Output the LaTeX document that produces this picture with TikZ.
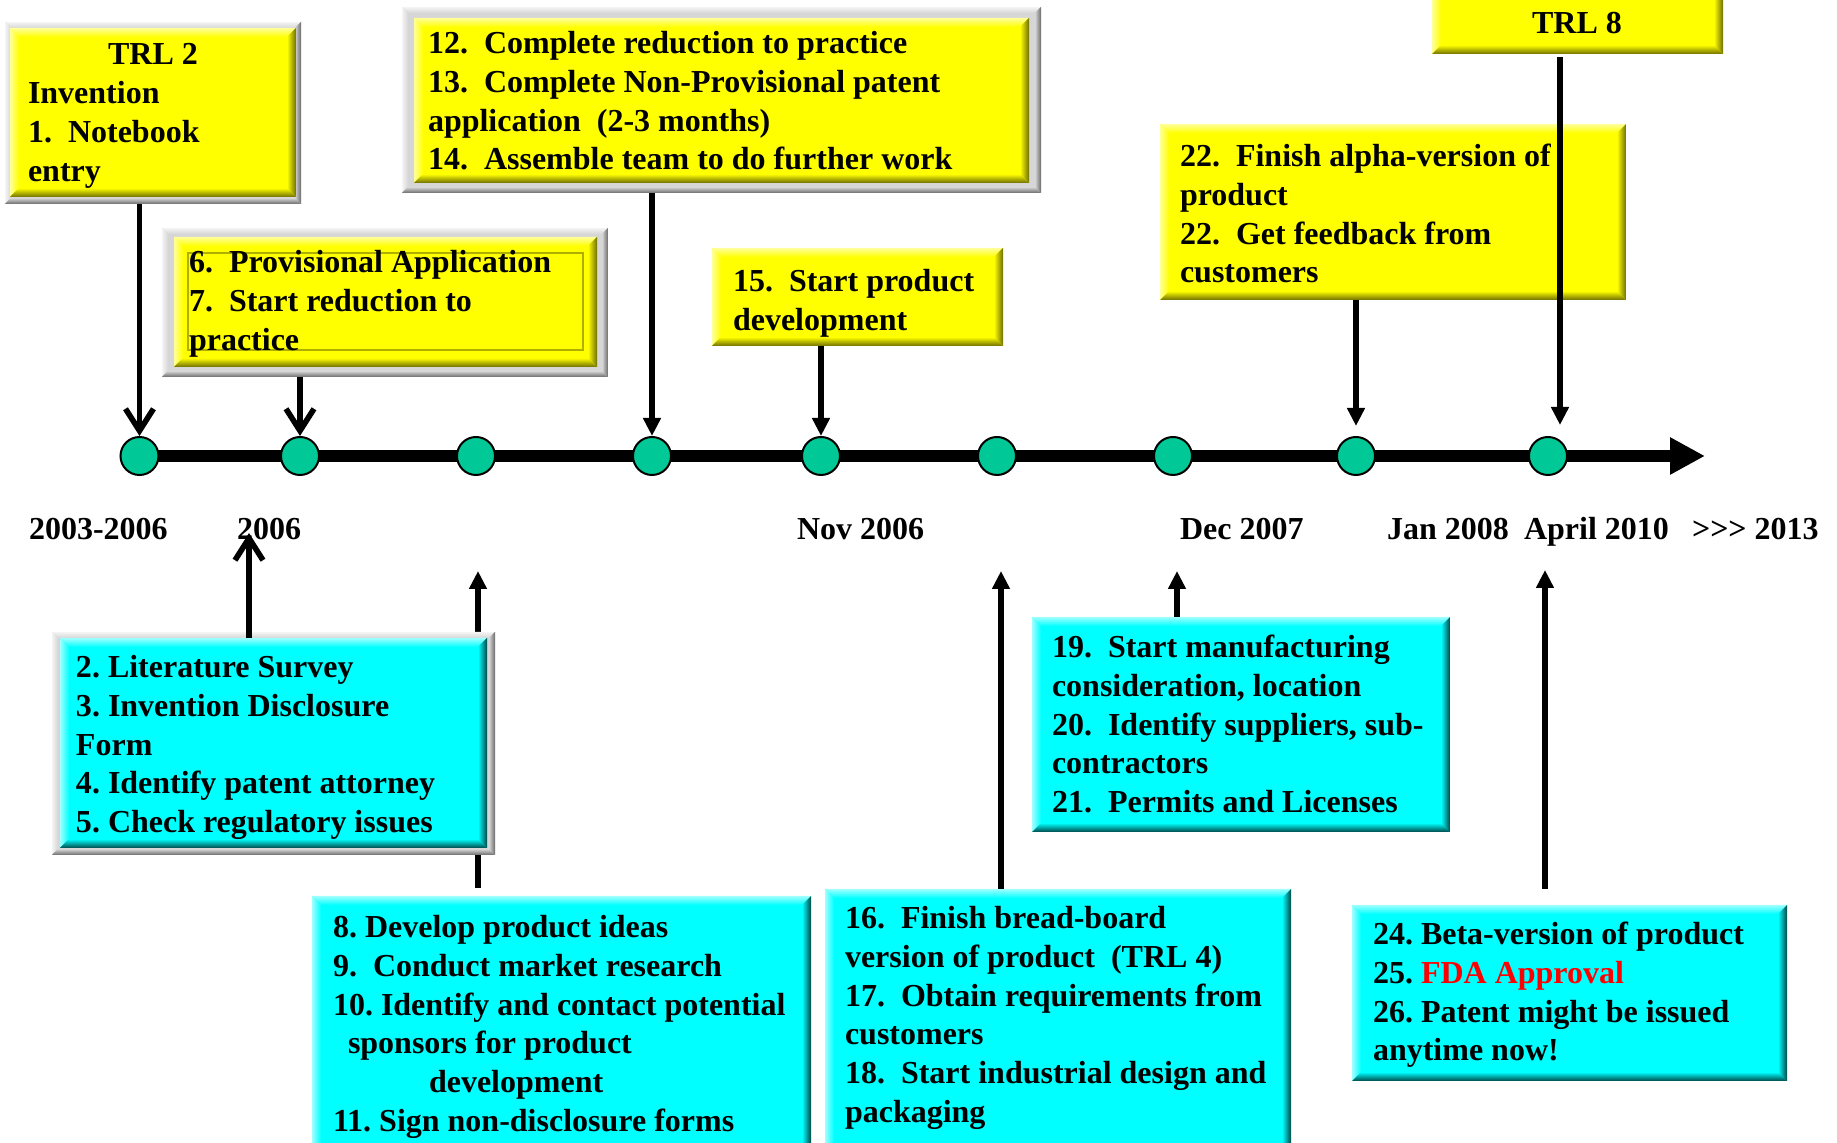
\documentclass[tikz,border=0pt]{standalone}
\usepackage{fontspec}
\setmainfont{Liberation Serif}
\usetikzlibrary{arrows.meta,calc,fit,backgrounds}
\frenchspacing

\definecolor{ybase}{HTML}{FFFF00}
\definecolor{ydark}{HTML}{6E6E00}
\definecolor{ylight}{HTML}{FFFF9A}
\definecolor{cbase}{HTML}{00FFFF}
\definecolor{cdark}{HTML}{004848}
\definecolor{clight}{HTML}{A0FFFF}
\definecolor{gbase}{HTML}{D6D6D6}
\definecolor{gdark}{HTML}{6A6A6A}
\definecolor{glight}{HTML}{F4F4F4}
\definecolor{dotgreen}{HTML}{00C896}

% multi-line left-aligned text, baseline on the first line
\newcommand\ml[1]{\begin{tabular}[t]{@{}l@{}}#1\end{tabular}}

\tikzset{
  bevel/.style n args={4}{fill=#1, draw=none, inner sep=0pt, outer sep=0pt,
    path picture={
      \path (path picture bounding box.north west) coordinate (pnw)
            (path picture bounding box.north east) coordinate (pne)
            (path picture bounding box.south west) coordinate (psw)
            (path picture bounding box.south east) coordinate (pse);
      \shade[top color=#2, bottom color=#1] (pnw) -- (pne) -- ($(pne)+(-#4,-#4)$) -- ($(pnw)+(#4,-#4)$) -- cycle;
      \shade[left color=#2, right color=#1] (pnw) -- ($(pnw)+(#4,-#4)$) -- ($(psw)+(#4,#4)$) -- (psw) -- cycle;
      \shade[left color=#1, right color=#3] (pne) -- (pse) -- ($(pse)+(-#4,#4)$) -- ($(pne)+(-#4,-#4)$) -- cycle;
      \shade[top color=#1, bottom color=#3] (psw) -- (pse) -- ($(pse)+(-#4,#4)$) -- ($(psw)+(#4,#4)$) -- cycle;
    }},
  ybox/.style={bevel={ybase}{ylight}{ydark}{4.5bp}},
  cbox/.style={bevel={cbase}{clight}{cdark}{4.5bp}},
  gframe/.style={bevel={gbase}{glight}{gdark}{3bp}},
  inline/.style={draw=ydark!55!ybase, line width=0.6bp, inner sep=0pt, outer sep=0pt},
  txt/.style={inner sep=0pt, outer sep=0pt, anchor=base west,
    font=\bfseries\fontsize{16bp}{19.3bp}\selectfont},
  dot/.style={circle, draw=black, line width=1bp, fill=dotgreen,
    minimum size=19bp, inner sep=0pt},
  axis/.style={line width=5.8bp, -{Triangle[length=17.5bp,width=17.5bp]}},
  conn/.style={line width=2.8bp},
  chev/.style={-{Straight Barb[length=11bp,width=14bp]}},
  tri/.style={-{Triangle[length=9bp,width=8.5bp]}}
}

\begin{document}
\begin{tikzpicture}[x=0.5bp, y=-0.5bp]
\useasboundingbox (0,0) rectangle (1837,1143);
\clip (0,0) rectangle (1837,1143);

% ---- upper (yellow) boxes ----
\node[gframe, fit={(5,22)(301,204)}] (f1) {};
\node[ybox, fit={(10,28)(296,197)}] (b1) {};
\node[txt, anchor=base] (t1a) at (153,65) {TRL 2};
\node[txt] (t1b) at (28,104) {\ml{Invention\\1.\ \ Notebook\\entry}};

\node[gframe, fit={(162,228)(608,377)}] (f2) {};
\node[ybox, fit={(174,237)(597,367)}] (b2) {};
\node[inline, fit={(188,253)(583,350)}] (b2in) {};
\node[txt] (t2) at (189,273) {\ml{6.\ \ Provisional Application\\7.\ \ Start reduction to\\practice}};

\node[gframe, fit={(402,7)(1041,193)}] (f3) {};
\node[ybox, fit={(414,18)(1029,183)}] (b3) {};
\node[txt] (t3) at (428,54) {\ml{12.\ \ Complete reduction to practice\\13.\ \ Complete Non-Provisional patent\\application\ \ (2-3 months)\\14.\ \ Assemble team to do further work}};

\node[ybox, fit={(712,248)(1003,346)}] (b4) {};
\node[txt] (t4) at (733,292) {\ml{15.\ \ Start product\\development}};

\node[ybox, fit={(1160,124)(1626,300)}] (b5) {};
\node[txt] (t5) at (1180,167) {\ml{22.\ \ Finish alpha-version of\\product\\22.\ \ Get feedback from\\customers}};

\node[ybox, fit={(1432,-20)(1723,54)}] (b6) {};
\node[txt, anchor=base] (t6) at (1577,34) {TRL 8};

% ---- lower (cyan) boxes ----
\node[gframe, fit={(52,632)(495,855)}] (f7) {};
\node[cbox, fit={(60,638)(487,848)}] (b7) {};
\node[txt] (t7) at (76,678) {\ml{2. Literature Survey\\3. Invention Disclosure\\Form\\4. Identify patent attorney\\5. Check regulatory issues}};

\node[cbox, fit={(312,896)(811,1170)}] (b8) {};
\node[txt] (t8) at (333,938) {\ml{8. Develop product ideas\\9.\ \ Conduct market research\\10. Identify and contact potential\\\hspace*{7.5bp}sponsors for product\\\hspace*{48bp}development\\11. Sign non-disclosure forms}};

\node[cbox, fit={(825,889)(1291,1170)}] (b9) {};
\node[txt] (t9) at (845,929) {\ml{16.\ \ Finish bread-board\\version of product\ \ (TRL 4)\\17.\ \ Obtain requirements from\\customers\\18.\ \ Start industrial design and\\packaging}};

\node[cbox, fit={(1032,617)(1450,832)}] (b10) {};
\node[txt] (t10) at (1052,658) {\ml{19.\ \ Start manufacturing\\consideration, location\\20.\ \ Identify suppliers, sub-\\contractors\\21.\ \ Permits and Licenses}};

\node[cbox, fit={(1352,905)(1787,1081)}] (b11) {};
\node[txt] (t11) at (1373,945) {\ml{24. Beta-version of product\\25. \textcolor{red}{FDA Approval}\\26. Patent might be issued\\anytime now!}};

% ---- date labels ----
\node[txt] (d1) at (29,540) {2003-2006};
\node[txt] (d2) at (237,540) {2006};
\node[txt] (d3) at (797,540) {Nov 2006};
\node[txt] (d4) at (1180,540) {Dec 2007};
\node[txt] (d5) at (1387,540) {Jan 2008};
\node[txt] (d6) at (1524,540) {April 2010};
\node[txt] (d7) at (1692,540) {>{}>{}> 2013};

% ---- milestones on the time axis ----
\foreach \n/\x in {1/139.5,2/300,3/476,4/652,5/821,6/997,7/1173,8/1356,9/1548}
  \node[dot] (c\n) at (\x,456) {};
\coordinate (tip) at (1705,456);

% ---- arrow ends ----
\coordinate (e9) at (1560,425);
\coordinate (u1) at (249,533);
\coordinate (u2) at (478,571);
\coordinate (u3) at (1001,571);
\coordinate (u4) at (1177,571);
\coordinate (u5) at (1545,570);

\begin{scope}[on background layer]
  \draw[axis] (c1.center) -- (tip);
  \draw[conn, tri, shorten <=4bp] (u2 |- b8.north) -- (u2);
\end{scope}

% downward arrows
\draw[conn, chev] (c1 |- f1.south) -- (c1.north);
\draw[conn, chev] (c2 |- f2.south) -- (c2.north);
\draw[conn, tri] (c4 |- f3.south) -- (c4.north);
\draw[conn, tri] (c5 |- b4.south) -- (c5.north);
\draw[conn, tri, shorten >=5bp] (c8 |- b5.south) -- (c8.north);
\draw[conn, tri, shorten <=1.5bp] (e9 |- b6.south) -- (e9);

% upward arrows
\draw[conn, chev] (u1 |- b7.north) -- (u1);
\draw[conn, tri] (u3 |- b9.north) -- (u3);
\draw[conn, tri] (u4 |- b10.north) -- (u4);
\draw[conn, tri, shorten <=8bp] (u5 |- b11.north) -- (u5);
\end{tikzpicture}
\end{document}
